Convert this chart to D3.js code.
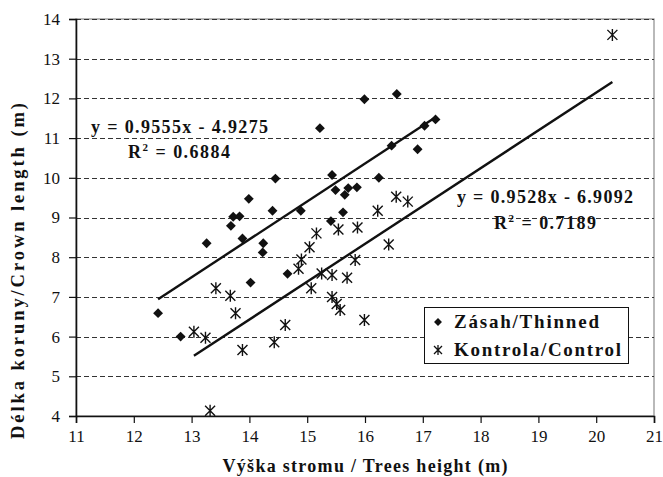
<!DOCTYPE html>
<html>
<head>
<meta charset="utf-8">
<script src="https://cdn.jsdelivr.net/npm/d3@7"></script>
<style>
  html, body { margin: 0; padding: 0; background: #fff; }
  svg { display: block; }
  text { font-family: "Liberation Serif", "Times New Roman", "DejaVu Serif", serif; fill: #111; }
</style>
</head>
<body>
<svg id="chart" width="663" height="477"></svg>
<script>
// ---- data ----
const thinnedX = [12.42, 12.81, 13.26, 13.68, 13.72, 13.83, 13.88, 13.99, 14.02, 14.24, 14.23, 14.40, 14.45, 14.66, 14.89,
                  15.22, 15.41, 15.43, 15.49, 15.62, 15.65, 15.71, 15.86, 15.99, 16.24, 16.46, 16.55, 16.91, 17.03, 17.22];
const thinnedY = [6.59, 6.00, 8.35, 8.79, 9.02, 9.03, 8.47, 9.47, 7.36, 8.35, 8.12, 9.17, 9.98, 7.58, 9.17,
                  11.25, 8.91, 10.07, 9.69, 9.13, 9.57, 9.74, 9.76, 11.98, 10.00, 10.81, 12.11, 10.72, 11.31, 11.47];
const controlX = [13.04, 13.24, 13.32, 13.42, 13.67, 13.76, 13.88, 14.43, 14.62, 14.85, 14.90, 15.04, 15.07, 15.16, 15.25,
                  15.43, 15.43, 15.51, 15.57, 15.54, 15.69, 15.83, 15.87, 15.99, 16.22, 16.41, 16.54, 16.74, 20.28];
const controlY = [6.12, 5.97, 4.13, 7.22, 7.03, 6.59, 5.66, 5.86, 6.29, 7.71, 7.94, 8.25, 7.22, 8.60, 7.59,
                  7.55, 7.00, 6.82, 6.67, 8.70, 7.48, 7.93, 8.75, 6.42, 9.17, 8.32, 9.52, 9.40, 13.60];
const seriesNames = ["Zásah/Thinned", "Kontrola/Control"];
const slopes = [0.9555, 0.9528];
const intercepts = [-4.9275, -6.9092];
const eqLabels = ["y = 0.9555x - 4.9275", "y = 0.9528x - 6.9092"];
const r2Values = ["0.6884", "0.7189"];
const xTicks = [11, 12, 13, 14, 15, 16, 17, 18, 19, 20, 21];
const yTicks = [4, 5, 6, 7, 8, 9, 10, 11, 12, 13, 14];
const xTitle = "Výška stromu / Trees height (m)";
const yTitle = "Délka koruny/Crown length (m)";

// ---- layout ----
const svg = d3.select("#chart");
const L = 76, R = 654, T = 19, B = 416;
const x = d3.scaleLinear().domain([11, 21]).range([L, R]);
const y = d3.scaleLinear().domain([4, 14]).range([B, T]);

// plot border (gray)
svg.append("rect").attr("x", L).attr("y", T).attr("width", R - L).attr("height", B - T)
  .attr("fill", "none").attr("stroke", "#8a8a8a").attr("stroke-width", 1.2);

// gridlines
svg.append("g").selectAll("line").data(yTicks.filter(d => d > 4)).join("line")
  .attr("x1", L).attr("x2", R)
  .attr("y1", d => Math.round(y(d)) + 0.5).attr("y2", d => Math.round(y(d)) + 0.5)
  .attr("stroke", "#333").attr("stroke-width", 1).attr("stroke-dasharray", "5,3");

// axes
const xAxis = d3.axisBottom(x).tickValues(xTicks).tickSize(7).tickPadding(7).tickFormat(d3.format("d"));
const yAxis = d3.axisLeft(y).tickValues(yTicks).tickSize(7).tickPadding(9).tickFormat(d3.format("d"));
const gx = svg.append("g").attr("transform", `translate(0,${B})`).call(xAxis);
const gy = svg.append("g").attr("transform", `translate(${L},0)`).call(yAxis);
[gx, gy].forEach(g => {
  g.attr("font-family", null);
  g.select(".domain").attr("stroke", "#111").attr("stroke-width", 1.6);
  g.selectAll(".tick line").attr("stroke", "#111").attr("stroke-width", 1.2);
  g.selectAll(".tick text").attr("font-size", 17).attr("fill", "#111");
});

// trendlines
const seriesX = [thinnedX, controlX];
seriesX.forEach((xs, i) => {
  const x0 = d3.min(xs), x1 = d3.max(xs);
  svg.append("line")
    .attr("x1", x(x0)).attr("y1", y(slopes[i] * x0 + intercepts[i]))
    .attr("x2", x(x1)).attr("y2", y(slopes[i] * x1 + intercepts[i]))
    .attr("stroke", "#111").attr("stroke-width", 2.4);
});

// markers
const diamond = d3.symbol().type(d3.symbolDiamond2).size(62);
const thinned = thinnedX.map((v, i) => [v, thinnedY[i]]);
const control = controlX.map((v, i) => [v, controlY[i]]);
svg.append("g").selectAll("path").data(thinned).join("path")
  .attr("d", diamond()).attr("transform", d => `translate(${x(d[0])},${y(d[1])})`)
  .attr("fill", "#111");
function asterisk(s) {
  return `M${-s},${-s}L${s},${s}M${-s},${s}L${s},${-s}M0,${-s - 1}L0,${s + 1}`;
}
svg.append("g").selectAll("path").data(control).join("path")
  .attr("d", asterisk(5)).attr("transform", d => `translate(${x(d[0])},${y(d[1])})`)
  .attr("fill", "none").attr("stroke", "#111").attr("stroke-width", 1.4);

// equation labels
const eqPos = [{x: 91, y: 133, w: 177, rx: 128, ry: 158, rw: 102}, {x: 457, y: 203, w: 176, rx: 494, ry: 229, rw: 102}];
eqPos.forEach((p, i) => {
  svg.append("text").attr("x", p.x).attr("y", p.y).attr("font-size", 18).attr("font-weight", "bold")
    .attr("textLength", p.w).attr("lengthAdjust", "spacing").text(eqLabels[i]);
  const t = svg.append("text").attr("x", p.rx).attr("y", p.ry).attr("font-size", 18).attr("font-weight", "bold")
    .attr("textLength", p.rw).attr("lengthAdjust", "spacing");
  t.append("tspan").text("R");
  t.append("tspan").attr("dy", -7).attr("font-size", 11).text("2");
  t.append("tspan").attr("dy", 7).text(" = " + r2Values[i]);
});

// legend
const lg = svg.append("g");
lg.append("rect").attr("x", 424.5).attr("y", 307.5).attr("width", 204).attr("height", 56)
  .attr("fill", "#fff").attr("stroke", "#111").attr("stroke-width", 1);
lg.append("path").attr("d", d3.symbol().type(d3.symbolDiamond2).size(40)())
  .attr("transform", "translate(438,322)").attr("fill", "#111");
lg.append("path").attr("d", asterisk(4)).attr("transform", "translate(438,350)")
  .attr("fill", "none").attr("stroke", "#111").attr("stroke-width", 1.3);
lg.append("text").attr("x", 454).attr("y", 328).attr("font-size", 19).attr("font-weight", "bold")
  .attr("textLength", 145).attr("lengthAdjust", "spacing").text(seriesNames[0]);
lg.append("text").attr("x", 454).attr("y", 356).attr("font-size", 19).attr("font-weight", "bold")
  .attr("textLength", 167).attr("lengthAdjust", "spacing").text(seriesNames[1]);

// axis titles
svg.append("text").attr("x", 365).attr("y", 472).attr("text-anchor", "middle")
  .attr("font-size", 18).attr("font-weight", "bold").attr("textLength", 285).attr("lengthAdjust", "spacing")
  .text(xTitle);
svg.append("text").attr("transform", "translate(24,271) rotate(-90)").attr("text-anchor", "middle")
  .attr("font-size", 18.5).attr("font-weight", "bold").attr("textLength", 336).attr("lengthAdjust", "spacing")
  .text(yTitle);
</script>
</body>
</html>
